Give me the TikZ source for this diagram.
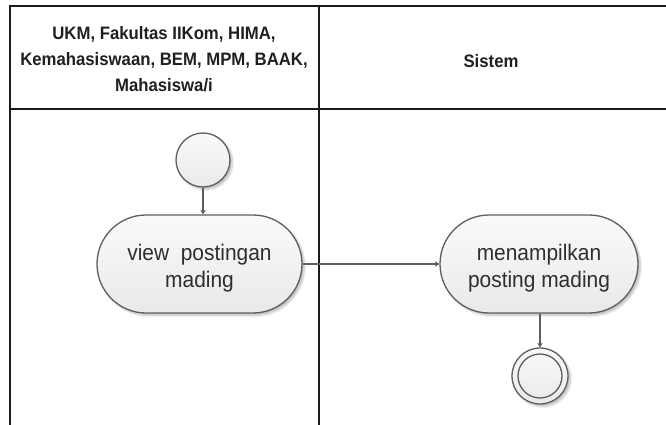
\documentclass[tikz,border=0pt]{standalone}
\usepackage{fontspec}
\setmainfont{Liberation Sans}
\newfontfamily\narrowsans[FakeStretch=0.93]{Liberation Sans}
\usetikzlibrary{arrows.meta,shapes.misc,shadows.blur}
\definecolor{edge}{HTML}{5E5E5E}
\definecolor{lane}{HTML}{1A1A1A}
\definecolor{ink}{HTML}{2E2E2E}
\definecolor{filltop}{HTML}{FAFAFA}
\definecolor{fillbot}{HTML}{E9E9E9}
\newcommand{\firstline}{\rule{0pt}{24pt}}
\tikzset{
  lanerule/.style={draw=lane, line width=2pt},
  headtext/.style={font=\narrowsans\fontsize{18}{26}\selectfont\bfseries, text=black!88, align=center},
  umlshade/.style={top color=filltop, bottom color=fillbot, draw=edge, line width=1.3pt,
    blur shadow={shadow xshift=2.5pt, shadow yshift=-2.5pt, shadow blur steps=5, shadow opacity=25}},
  activity/.style={umlshade, rounded rectangle, minimum height=98pt, inner sep=0pt,
    font=\narrowsans\fontsize{22.5}{27}\selectfont, text=ink, align=center},
  startnode/.style={umlshade, circle, minimum size=54pt, inner sep=0pt},
  endouter/.style={umlshade, circle, minimum size=56pt, inner sep=0pt},
  endinner/.style={draw=edge, line width=1.3pt, circle, minimum size=44pt, inner sep=0pt},
  flow/.style={draw=edge, line width=1.3pt, -{Triangle[length=4pt,width=5pt]}}
}
\begin{document}
\begin{tikzpicture}[x=1pt,y=-1pt]
\useasboundingbox (0,0) rectangle (666,425);
% swimlane frame
\draw[lanerule] (10,6) -- (666,6);
\draw[lanerule] (10,109) -- (666,109);
\draw[lanerule] (10,5) -- (10,425);
\draw[lanerule] (319,5) -- (319,425);
% lane headers
\node[headtext] (hleft) at (164,59) {UKM, Fakultas IIKom, HIMA,\\Kemahasiswaan, BEM, MPM, BAAK,\\Mahasiswa/i};
\node[headtext] (hright) at (491,61) {Sistem};
% activity flow
\node[startnode] (start) at (203,160) {};
\node[activity, minimum width=205pt] (view) at (199.5,264) {\firstline view\ \ postingan\\mading};
\node[activity, minimum width=198pt] (show) at (539,264) {\firstline menampilkan\\posting mading};
\node[endouter] (stop) at (540,376) {};
\node[endinner] (stopin) at (stop.center) {};
\draw[flow] (start) -- (start |- view.north);
\draw[flow] (view.east) -- (show.west);
\draw[flow] (show.south -| stop) -- (stop.north);
\end{tikzpicture}
\end{document}
